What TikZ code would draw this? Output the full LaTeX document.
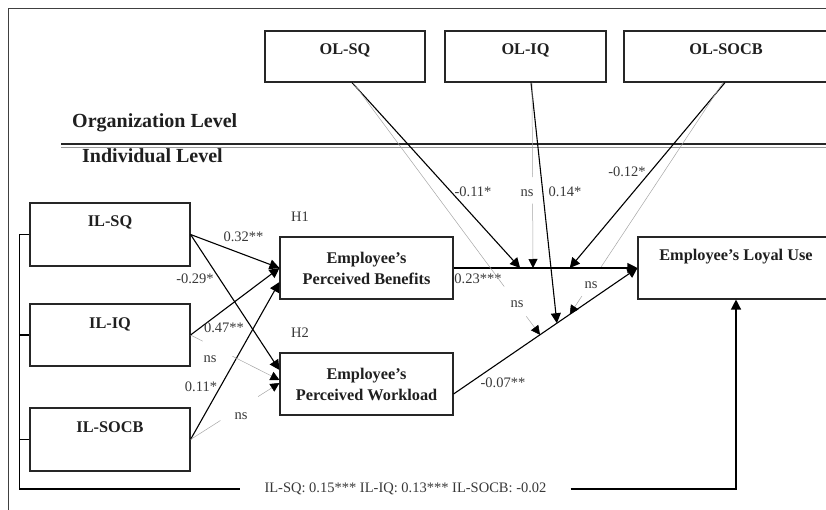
\documentclass[tikz,border=0pt]{standalone}
\usepackage{fontspec}
\setmainfont{Liberation Serif}
\usetikzlibrary{arrows.meta}
\begin{document}
\begin{tikzpicture}[x=1pt,y=-1pt,
  boxfont/.style={font=\fontsize{16.3}{21}\selectfont\bfseries, text=black!88},
  topbox/.style={draw=black!85, line width=1.1pt, boxfont, inner xsep=0pt, inner ysep=0pt, text height=24pt},
  twobox/.style={draw=black!85, line width=1.1pt, boxfont, align=center, inner sep=0pt, minimum width=173pt, minimum height=62pt},
  coef/.style={font=\fontsize{14.5}{17}\selectfont, text=black!78, inner sep=0pt},
  lvl/.style={font=\fontsize{20}{24}\selectfont\bfseries, text=black!88, inner sep=0pt},
  path/.style={draw=black, line width=1.1pt, -{Triangle[length=10pt,width=10pt]}},
  nspath/.style={draw=black!35, line width=0.5pt},
  nsarrow/.style={draw=black!35, line width=0.5pt, -{Triangle[length=9pt,width=9pt,color=black]}},
  brk/.style={draw=black, line width=1.5pt}]
\useasboundingbox (0,0) rectangle (826,510);
\clip (0,0) rectangle (826,510);

% frame
\draw[black!75, line width=1pt] (8,515) -- (8,9) -- (830,9);

% level separator
\draw[black!85, line width=1.3pt] (61,144) -- (830,144);
\draw[black!40, line width=1pt] (61,147.4) -- (830,147.4);
\node[lvl, anchor=base west] (orglvl) at (72,128) {Organization Level};
\node[lvl, anchor=base west] (indlvl) at (82,163) {Individual Level};

% organization level boxes
\node[topbox, minimum width=160pt, text depth=27pt] (OLSQ) at (345,56.5) {OL-SQ};
\node[topbox, minimum width=161pt, text depth=27pt] (OLIQ) at (525.5,56.5) {OL-IQ};
\node[topbox, minimum width=204pt, text depth=27pt] (OLSOCB) at (726,56.5) {OL-SOCB};

% individual level boxes
\node[topbox, minimum width=160pt, text depth=39pt] (ILSQ) at (110,234.5) {IL-SQ};
\node[topbox, minimum width=160pt, text depth=38pt] (ILIQ) at (110,335) {IL-IQ};
\node[topbox, minimum width=160pt, text depth=39pt] (ILSOCB) at (110,439.5) {IL-SOCB};

\node[twobox] (PB) at (366.5,268) {Employee’s\\Perceived Benefits};
\node[twobox] (PW) at (366.5,384) {Employee’s\\Perceived Workload};
\node[topbox, minimum width=196pt, text depth=38pt] (LU) at (736,268) {Employee’s Loyal Use};

\node[coef, anchor=base west] (H1) at (291,222) {H1};
\node[coef, anchor=base west] (H2) at (291,337) {H2};

% IL -> perceptions
\draw[path] (ILSQ.east) -- (PB.west);
\draw[path] (ILSQ.east) -- ([yshift=14pt]PW.west);
\draw[path] (ILIQ.east) -- (PB.west);
\draw[path] (ILSOCB.east) -- ([yshift=-14pt]PB.west);
\draw[nspath, shorten >=86pt] (ILIQ.east) -- ([yshift=4pt]PW.west);
\draw[nsarrow, shorten <=47pt] (ILIQ.east) -- ([yshift=4pt]PW.west);
\draw[nspath, shorten >=70pt] (ILSOCB.east) -- ([yshift=1pt]PW.west);
\draw[nsarrow, shorten <=80pt] (ILSOCB.east) -- ([yshift=1pt]PW.west);

\node[coef] (c1) at (243.5,237) {0.32**};
\node[coef] (c2) at (195,279) {-0.29*};
\node[coef] (c3) at (224,328) {0.47**};
\node[coef] (c4) at (210,359) {ns};
\node[coef] (c5) at (201,387) {0.11*};
\node[coef] (c6) at (241,416) {ns};

% perceptions -> loyal use
\draw[path] (PB.east) -- (LU.west);
\draw[path] ([yshift=-10pt]PW.east) -- (LU.west);
\path (PB.east) -- (LU.west)
  coordinate[pos=0.362] (m1) coordinate[pos=0.432] (m2) coordinate[pos=0.632] (m3);
\path ([yshift=-10pt]PW.east) -- (LU.west)
  coordinate[pos=0.470] (w1) coordinate[pos=0.562] (w2) coordinate[pos=0.632] (w3);

\node[coef] (c7) at (478,279) {0.23***};
\node[coef] (c8) at (503,383) {-0.07**};

% organization level moderations
\draw[path] ([xshift=7pt]OLSQ.south) -- (m1);
\draw[nspath, shorten >=60pt] ([xshift=8pt]OLSQ.south) -- (w1);
\draw[nsarrow, shorten <=291pt] ([xshift=8pt]OLSQ.south) -- (w1);
\draw[path] ([xshift=5.5pt]OLIQ.south) -- (w2);
\draw[nspath, shorten >=91pt] ([xshift=6.5pt]OLIQ.south) -- (m2);
\draw[nsarrow, shorten <=121pt] ([xshift=6.5pt]OLIQ.south) -- (m2);
\draw[path] ([xshift=-1pt]OLSOCB.south) -- (m3);
\draw[nspath, shorten >=57pt] ([xshift=-3pt]OLSOCB.south) -- (w3);
\draw[nsarrow, shorten <=256pt] ([xshift=-3pt]OLSOCB.south) -- (w3);

\node[coef] (c9) at (473,192) {-0.11*};
\node[coef] (c10) at (527,193) {ns};
\node[coef] (c11) at (565,192) {0.14*};
\node[coef] (c12) at (627,172) {-0.12*};
\node[coef] (c13) at (517,304) {ns};
\node[coef] (c14) at (591,285) {ns};

% control variables bracket
\node[coef, inner xsep=24pt] (ctrl) at (405.5,489) {IL-SQ: 0.15*** IL-IQ: 0.13*** IL-SOCB: -0.02};
\draw[brk] (ILSQ.west) -- ++(-10,0) |- (ctrl.west);
\draw[brk] (ILIQ.west) -- ++(-10,0);
\draw[brk] (ILSOCB.west) -- ++(-10,0);
\draw[brk, line width=1.3pt, -{Triangle[length=10pt,width=10pt]}] (ctrl.east) -| (LU.south);
\end{tikzpicture}
\end{document}
